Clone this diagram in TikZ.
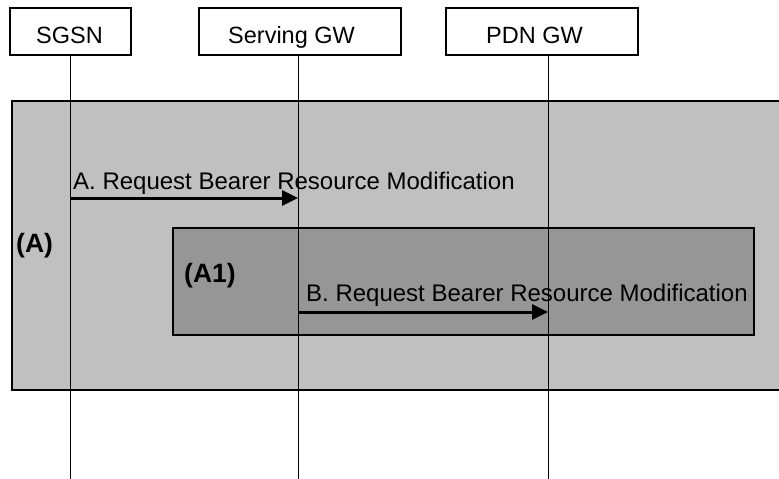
\documentclass[tikz,border=0pt]{standalone}
\usepackage{fontspec}
\setmainfont{Liberation Sans}
\usetikzlibrary{arrows.meta}
\definecolor{outerfill}{RGB}{192,192,192}
\definecolor{innerfill}{RGB}{150,150,150}
\begin{document}
\begin{tikzpicture}[x=1pt,y=-1pt,
 entity/.style={draw,line width=1.3pt,fill=white,minimum height=47pt,inner sep=0pt},
 region/.style={draw,line width=1.3pt},
 lifeline/.style={line width=1pt},
 msg/.style={line width=3pt,-{Triangle[length=16pt,width=15pt]}},
 ename/.style={font=\fontsize{23.5}{28}\selectfont,inner sep=0pt,anchor=base west},
 lbl/.style={font=\fontsize{24}{28}\selectfont,inner sep=0pt,anchor=base west},
 tag/.style={font=\bfseries\fontsize{26.5}{31}\selectfont,inner sep=0pt,anchor=base west}]
\useasboundingbox (0,0) rectangle (779,479);
\clip (0,0) rectangle (779,479);
% regions
\path[region,fill=outerfill] (12,101) rectangle (790,390);
\path[region,fill=innerfill] (173,228) rectangle (754,335);
% entity boxes
\node[entity,minimum width=121pt] (sgsn) at (70.5,31.5) {};
\node[entity,minimum width=202pt] (sgw) at (300,31.5) {};
\node[entity,minimum width=192pt] (pgw) at (542,31.5) {};
\node[ename] (sgsnt) at (36,43) {SGSN};
\node[ename] (sgwt) at (228,43) {Serving GW};
\node[ename] (pgwt) at (486,43) {PDN GW};
% lifelines
\coordinate (s1) at (70,55);  \coordinate (s2) at (70,480);
\coordinate (g1) at (298,55); \coordinate (g2) at (298,480);
\coordinate (p1) at (548,55); \coordinate (p2) at (548,480);
\draw[lifeline] (s1) -- (s2);
\draw[lifeline] (g1) -- (g2);
\draw[lifeline] (p1) -- (p2);
% messages
\coordinate (a1) at (70,198); \coordinate (a2) at (298,198);
\coordinate (b1) at (298,312); \coordinate (b2) at (548,312);
\draw[msg] (a1) -- (a2);
\draw[msg] (b1) -- (b2);
\node[lbl] (la) at (73,189) {A. Request Bearer Resource Modification};
\node[lbl] (lb) at (306,301) {B. Request Bearer Resource Modification};
% region tags
\node[tag] (ta) at (16,252) {(A)};
\node[tag] (ta1) at (184,282) {(A1)};
\end{tikzpicture}
\end{document}
